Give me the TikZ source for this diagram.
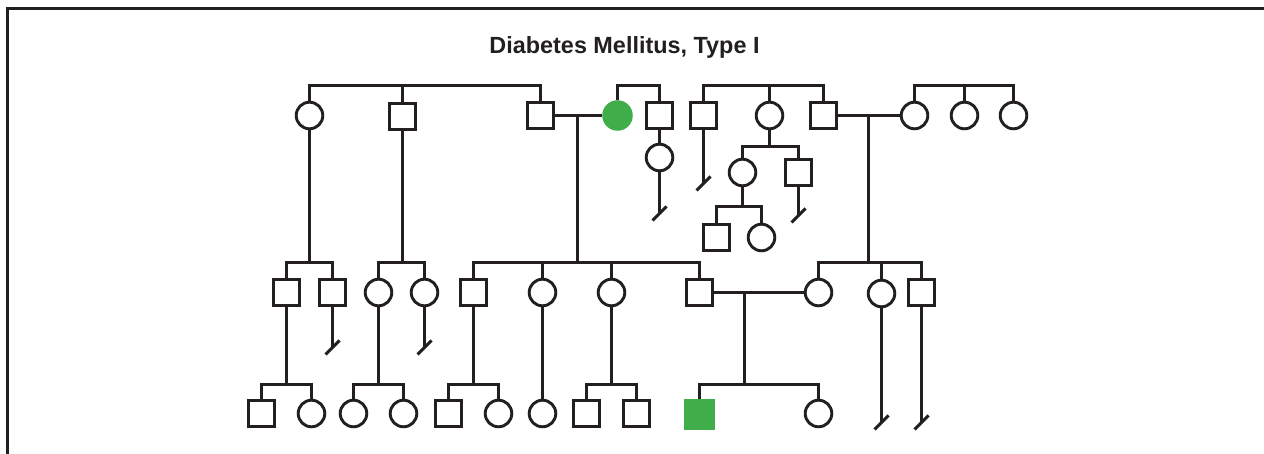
\documentclass[tikz,border=0pt]{standalone}
\usepackage{fontspec}
\setmainfont{Liberation Sans}
\definecolor{ink}{RGB}{35,31,32}
\definecolor{aff}{RGB}{63,173,73}
\newcommand\sibbar[3]{\draw[conn] (#1.north) -- (#1.north |- #3) -- (#2.north |- #3) -- (#2.north);}
\newcommand\sibdrop[2]{\draw[conn] (#1.north) -- (#1.north |- #2);}
\newcommand\noissue[1]{\draw[conn] ([shift={(-7,7)}]#1) -- ([shift={(7,-7)}]#1);}
\begin{document}
\begin{tikzpicture}[x=1pt,y=-1pt,line join=miter,
  conn/.style={draw=ink,line width=3pt},
  fem/.style={circle,draw=ink,line width=2.9pt,minimum size=26.6pt,inner sep=0pt},
  mal/.style={rectangle,draw=ink,line width=2.9pt,minimum size=26.6pt,inner sep=0pt},
  afem/.style={circle,fill=aff,minimum size=30.5pt,inner sep=0pt},
  amal/.style={rectangle,fill=aff,minimum size=30.5pt,inner sep=0pt}]
\useasboundingbox (0,0) rectangle (1264,454);
\fill[white] (0,0) rectangle (1264,454);
\begin{scope}[shift={(0.5,0.5)}]
% frame
\draw[conn] (7,470) -- (7,8) -- (1280,8);
% title
\node[anchor=base,text=ink,inner sep=0pt,font=\bfseries\fontsize{23.4}{28}\selectfont] (title) at (624,53) {Diabetes Mellitus, Type I};
% bar levels
\coordinate (y85) at (0,85);
\coordinate (y146) at (0,146);
\coordinate (y206) at (0,206);
\coordinate (y262) at (0,262);
\coordinate (y384) at (0,384);
% generation I
\node[fem] (I1) at (309,115) {};
\node[mal] (I2) at (402,116) {};
\node[mal] (I3) at (540,115) {};
\node[afem] (I4) at (617,115) {};
\node[mal] (I5) at (659,115) {};
\node[mal] (I6) at (703,115) {};
\node[fem] (I7) at (769,115) {};
\node[mal] (I8) at (823,115) {};
\node[fem] (I9) at (914,115) {};
\node[fem] (I10) at (964,115) {};
\node[fem] (I11) at (1013,115) {};
% side branch
\node[fem] (C1) at (659,157) {};
\node[fem] (C2) at (742,172) {};
\node[mal] (C3) at (798,172) {};
\node[mal] (C4) at (716,237) {};
\node[fem] (C5) at (761,237) {};
% generation III
\node[mal] (A1) at (286,292) {};
\node[mal] (A2) at (332,292) {};
\node[fem] (A3) at (378,292) {};
\node[fem] (A4) at (424,292) {};
\node[mal] (A5) at (473,292) {};
\node[fem] (A6) at (542,292) {};
\node[fem] (A7) at (611,292) {};
\node[mal] (A8) at (699,292) {};
\node[fem] (A9) at (818,292) {};
\node[fem] (A10) at (881,293) {};
\node[mal] (A11) at (921,292) {};
% generation IV
\node[mal] (B1) at (261,413) {};
\node[fem] (B2) at (311,413) {};
\node[fem] (B3) at (353,413) {};
\node[fem] (B4) at (403,413) {};
\node[mal] (B5) at (448,413) {};
\node[fem] (B6) at (498,413) {};
\node[fem] (B7) at (542,413) {};
\node[mal] (B8) at (586,413) {};
\node[mal] (B9) at (636,413) {};
\node[amal] (B10) at (699,414) {};
\node[fem] (B11) at (818,413) {};
% mating points and no-issue ends
\coordinate (m1) at (577,114);
\coordinate (m2) at (868,114);
\coordinate (m3) at (744,292);
\coordinate (e1) at (659,213);
\coordinate (e2) at (703,183);
\coordinate (e3) at (798,215);
\coordinate (e4) at (332,347);
\coordinate (e5) at (424,347);
\coordinate (e6) at (881,422);
\coordinate (e7) at (921,422);
% generation I sibships
\sibbar{I1}{I3}{y85} \sibdrop{I2}{y85}
\sibbar{I4}{I5}{y85}
\sibbar{I6}{I8}{y85} \sibdrop{I7}{y85}
\sibbar{I9}{I11}{y85} \sibdrop{I10}{y85}
% marriages
\draw[conn] (I3.east) -- (I4.west);
\draw[conn] (I8.east) -- (I9.west);
\draw[conn] (A8.east) -- (A9.west);
\draw[conn] (m1) -- (m1 |- y262);
\draw[conn] (m2) -- (m2 |- y262);
\draw[conn] (m3) -- (m3 |- y384);
% descents from generation I
\draw[conn] (I1.south) -- (I1.south |- y262);
\draw[conn] (I2.south) -- (I2.south |- y262);
\draw[conn] (I5.south) -- (C1.north);
\draw[conn] (C1.south) -- (e1); \noissue{e1}
\draw[conn] (I6.south) -- (e2); \noissue{e2}
\draw[conn] (I7.south) -- (I7.south |- y146);
\sibbar{C2}{C3}{y146}
\draw[conn] (C3.south) -- (e3); \noissue{e3}
\draw[conn] (C2.south) -- (C2.south |- y206);
\sibbar{C4}{C5}{y206}
% generation III sibships
\sibbar{A1}{A2}{y262}
\sibbar{A3}{A4}{y262}
\sibbar{A5}{A8}{y262} \sibdrop{A6}{y262} \sibdrop{A7}{y262}
\sibbar{A9}{A11}{y262} \sibdrop{A10}{y262}
\draw[conn] (A2.south) -- (e4); \noissue{e4}
\draw[conn] (A4.south) -- (e5); \noissue{e5}
\draw[conn] (A10.south) -- (e6); \noissue{e6}
\draw[conn] (A11.south) -- (e7); \noissue{e7}
% generation IV sibships
\draw[conn] (A1.south) -- (A1.south |- y384); \sibbar{B1}{B2}{y384}
\draw[conn] (A3.south) -- (A3.south |- y384); \sibbar{B3}{B4}{y384}
\draw[conn] (A5.south) -- (A5.south |- y384); \sibbar{B5}{B6}{y384}
\draw[conn] (A6.south) -- (B7.north);
\draw[conn] (A7.south) -- (A7.south |- y384); \sibbar{B8}{B9}{y384}
\sibbar{B10}{B11}{y384}
\end{scope}
\end{tikzpicture}
\end{document}
